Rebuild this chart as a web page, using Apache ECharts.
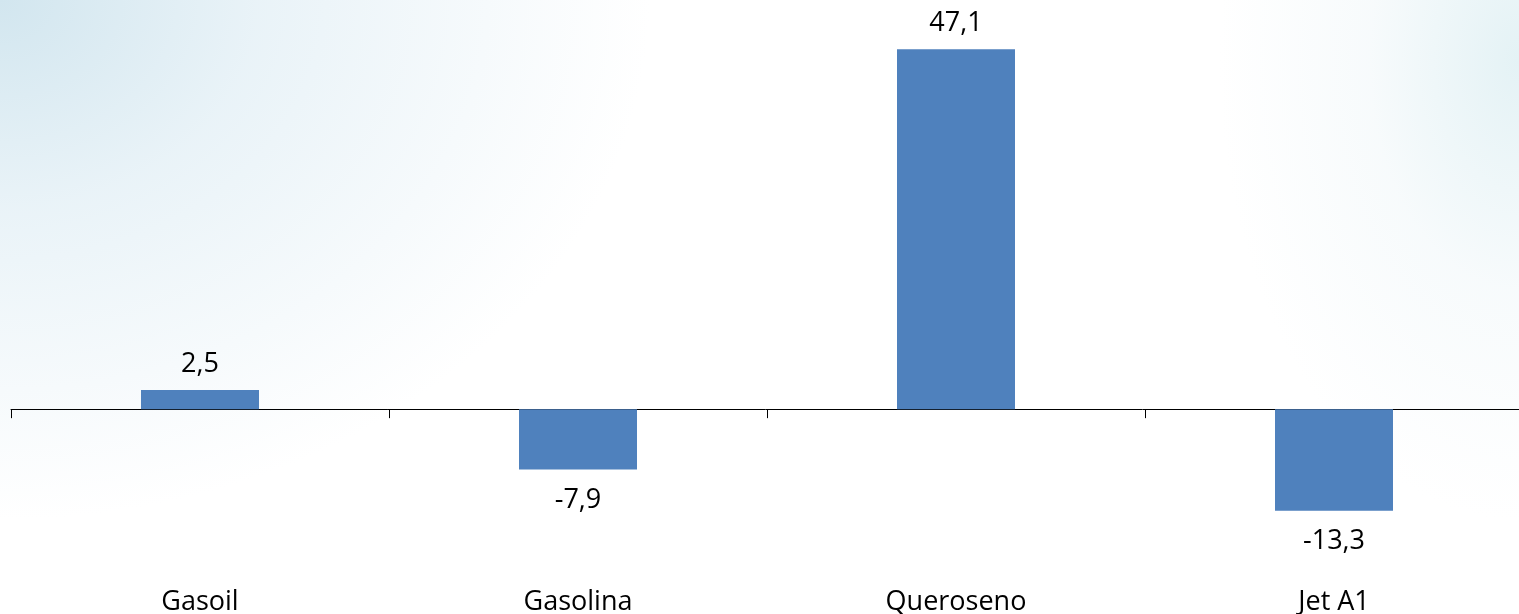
<!DOCTYPE html>
<html>
<head>
<meta charset="utf-8">
<script src="https://cdn.jsdelivr.net/npm/echarts@6/dist/echarts.min.js"></script>
<style>
html,body{margin:0;padding:0;width:1519px;height:614px;overflow:hidden;}
body{
  background:
    radial-gradient(ellipse 650px 520px at 0px 0px, rgba(210,230,239,1) 0%, rgba(228,240,246,0.8) 40%, rgba(255,255,255,0) 100%),
    radial-gradient(ellipse 300px 460px at 1519px 60px, rgba(228,242,245,1) 0%, rgba(242,248,250,0.6) 50%, rgba(255,255,255,0) 100%),
    #ffffff;
}
#c{width:1519px;height:614px;}
</style>
</head>
<body>
<div id="c"></div>
<script>
const categories = ['Gasoil', 'Gasolina', 'Queroseno', 'Jet A1'];
const values = [2.5, -7.9, 47.1, -13.3];

const chart = echarts.init(document.getElementById('c'), null, {renderer: 'canvas'});
const font = '"Open Sans", "Noto Sans", sans-serif';
chart.setOption({
  backgroundColor: 'transparent',
  animation: false,
  grid: {left: 11, right: -4, top: 27, bottom: 52, containLabel: false, outerBoundsMode: 'none'},
  xAxis: {
    type: 'category',
    data: categories,
    axisLine: {onZero: true, lineStyle: {color: '#000', width: 1}},
    axisTick: {show: true, length: 9, lineStyle: {color: '#000'}},
    axisLabel: {margin: 27, color: '#000', fontSize: 27, fontFamily: font}
  },
  yAxis: {
    type: 'value',
    min: -20, max: 50,
    show: false,
    splitLine: {show: false}
  },
  series: [{
    type: 'bar',
    data: values.map(v => v < 0 ? {value: v, label: {position: 'bottom', distance: 17}} : v),
    barWidth: 118,
    itemStyle: {color: '#4f81bd'},
    label: {
      show: true,
      position: 'top',
      distance: 12,
      color: '#000',
      fontSize: 27,
      fontFamily: font,
      formatter: p => String(p.value).replace('.', ',')
    }
  }]
});
</script>
</body>
</html>
